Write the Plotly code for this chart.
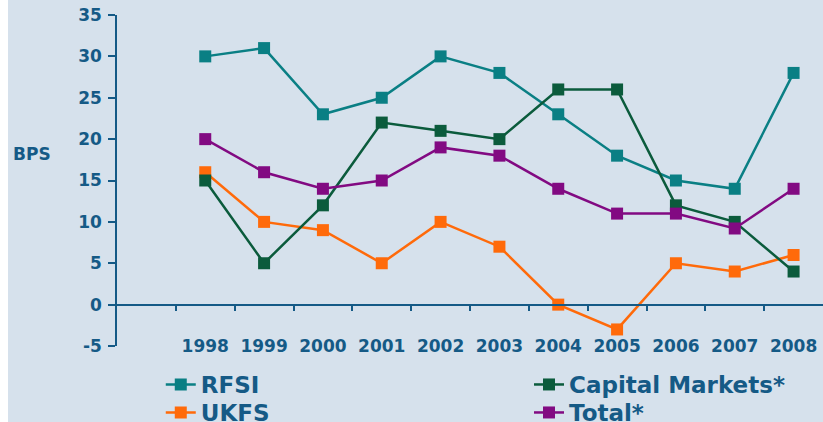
import plotly.graph_objects as go

years = [1998, 1999, 2000, 2001, 2002, 2003, 2004, 2005, 2006, 2007, 2008]
rfsi = [30, 31, 23, 25, 30, 28, 23, 18, 15, 14, 28]
capital_markets = [15, 5, 12, 22, 21, 20, 26, 26, 12, 10, 4]
ukfs = [16, 10, 9, 5, 10, 7, 0, -3, 5, 4, 6]
total = [20, 16, 14, 15, 19, 18, 14, 11, 11, 9.2, 14]
y_ticks = [-5, 0, 5, 10, 15, 20, 25, 30, 35]

TXT = "#155a86"
BG = "#d6e1ec"
FONT = "DejaVu Sans"

# (name, values, colour, legend id, legend x, legend y)
series = [
    ("RFSI", rfsi, "#0a7f84", "legend", 0.062, -0.0514),
    ("UKFS", ukfs, "#ff6a0a", "legend2", 0.062, -0.136),
    ("Capital Markets*", capital_markets, "#0b5b3c", "legend3", 0.5836, -0.0514),
    ("Total*", total, "#820a82", "legend4", 0.5836, -0.136),
]

fig = go.Figure()
legends = {}
legend_font = dict(family=FONT, size=23, color=TXT, weight="bold")
for name, vals, col, leg, lx, ly in series:
    fig.add_trace(go.Scatter(
        x=years, y=vals, name=name, mode="lines+markers",
        line=dict(color=col, width=2.5),
        marker=dict(symbol="square", size=12, color=col),
        legend=leg,
    ))
    legends[leg] = dict(
        orientation="v", xref="paper", yref="paper", xanchor="left",
        yanchor="top", x=lx, y=ly, font=legend_font,
        bgcolor="rgba(0,0,0,0)", borderwidth=0,
    )

fig.update_layout(
    width=823, height=422,
    margin=dict(l=117, r=0, t=15, b=76, autoexpand=False),
    paper_bgcolor=BG, plot_bgcolor=BG,
    font=dict(family=FONT, color=TXT),
    showlegend=True,
    **legends,
    xaxis=dict(
        range=[years[0] - 1.5, years[-1] + 0.5],
        anchor="free", position=(0 - y_ticks[0]) / (y_ticks[-1] - y_ticks[0]),
        tickmode="array", tickvals=years, ticktext=[str(y) for y in years],
        ticks="", ticklabelstandoff=26, automargin=False,
        tickfont=dict(family=FONT, size=17, color=TXT, weight="bold"),
        showline=True, linecolor=TXT, linewidth=1.5,
        showgrid=False, zeroline=False,
        minor=dict(tickmode="array", tickvals=[y - 0.5 for y in years],
                   ticks="outside", ticklen=6, tickwidth=1.5, tickcolor=TXT),
    ),
    yaxis=dict(
        range=[y_ticks[0], y_ticks[-1]],
        tickmode="array", tickvals=y_ticks, ticktext=[str(v) for v in y_ticks],
        ticks="outside", ticklen=7, tickwidth=1.5, tickcolor=TXT,
        ticklabelstandoff=3, automargin=False,
        tickfont=dict(family=FONT, size=17, color=TXT, weight="bold"),
        showline=True, linecolor=TXT, linewidth=1.5,
        showgrid=False, zeroline=False,
    ),
    annotations=[dict(
        text="BPS", xref="paper", yref="y", x=-0.12, y=18.2,
        showarrow=False, xanchor="center", yanchor="middle",
        font=dict(family=FONT, size=17, color=TXT, weight="bold"),
    )],
    shapes=[dict(
        type="rect", xref="paper", yref="paper",
        x0=-117 / 706, x1=-109 / 706, y0=-1, y1=2,
        fillcolor="white", line=dict(width=0), layer="below",
    )],
)

fig.write_html(
    "out.html",
    config={"displayModeBar": False},
    post_script="document.body.style.margin='0px';document.body.style.overflow='hidden';",
)
